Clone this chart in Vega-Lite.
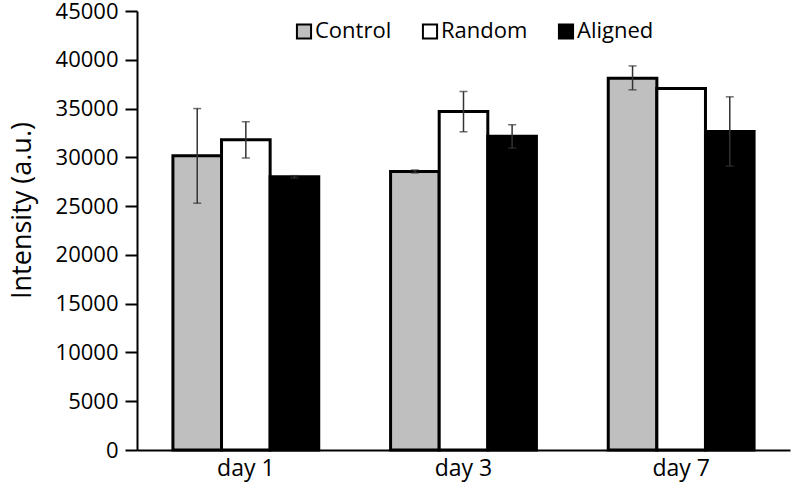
{
  "$schema": "https://vega.github.io/schema/vega-lite/v6.json",
  "width": 653,
  "height": 439,
  "autosize": {"type": "none"},
  "padding": {"left": 137, "top": 11, "right": 4, "bottom": 47},
  "background": "white",
  "config": {
    "view": {"stroke": null},
    "font": "Open Sans"
  },
  "data": {
    "values": [
      {"day": "day 1", "group": "Control", "value": 30150, "lo": 25300, "hi": 35000},
      {"day": "day 1", "group": "Random", "value": 31800, "lo": 29930, "hi": 33650},
      {"day": "day 1", "group": "Aligned", "value": 28000, "lo": 27880, "hi": 28120},
      {"day": "day 3", "group": "Control", "value": 28550, "lo": 28400, "hi": 28700},
      {"day": "day 3", "group": "Random", "value": 34700, "lo": 32620, "hi": 36750},
      {"day": "day 3", "group": "Aligned", "value": 32150, "lo": 30950, "hi": 33340},
      {"day": "day 7", "group": "Control", "value": 38100, "lo": 36920, "hi": 39370},
      {"day": "day 7", "group": "Random", "value": 37050, "lo": null, "hi": null},
      {"day": "day 7", "group": "Aligned", "value": 32650, "lo": 29100, "hi": 36200}
    ]
  },
  "encoding": {
    "x": {
      "field": "day",
      "type": "nominal",
      "scale": {"paddingInner": 0.33, "paddingOuter": 0.165},
      "axis": {
        "title": null,
        "labelAngle": 0,
        "labelFontSize": 23,
        "labelColor": "black",
        "labelPadding": 7,
        "ticks": false,
        "domainColor": "black",
        "domainWidth": 2
      }
    },
    "xOffset": {"field": "group", "type": "nominal", "sort": ["Control", "Random", "Aligned"]}
  },
  "layer": [
    {
      "mark": {"type": "bar", "stroke": "black", "strokeWidth": 3},
      "encoding": {
        "y": {
          "field": "value",
          "type": "quantitative",
          "scale": {"domain": [0, 45000], "nice": false},
          "axis": {
            "title": "Intensity (a.u.)",
            "titleFontSize": 27,
            "titleFontWeight": "normal",
            "titleColor": "black",
            "titlePadding": 19,
            "titleY": 199,
            "values": [0, 5000, 10000, 15000, 20000, 25000, 30000, 35000, 40000, 45000],
            "format": "d",
            "labelFontSize": 22,
            "labelColor": "black",
            "labelPadding": 7,
            "tickSize": 12,
            "tickColor": "black",
            "tickWidth": 2,
            "domainColor": "black",
            "domainWidth": 2,
            "grid": false
          }
        },
        "fill": {
          "field": "group",
          "type": "nominal",
          "sort": ["Control", "Random", "Aligned"],
          "scale": {"domain": ["Control", "Random", "Aligned"], "range": ["#bfbfbf", "#ffffff", "#000000"]},
          "legend": {
            "title": null,
            "orient": "none",
            "direction": "horizontal",
            "legendX": 156,
            "legendY": 9,
            "symbolType": "square",
            "symbolSize": 200,
            "symbolStrokeColor": "black",
            "symbolStrokeWidth": 2,
            "symbolOpacity": 1,
            "labelFontSize": 22,
            "labelColor": "black",
            "labelOffset": 0,
            "columnPadding": 26
          }
        }
      }
    },
    {
      "transform": [{"filter": "datum.hi != null"}],
      "mark": {"type": "rule", "color": "#333333", "strokeWidth": 1.5},
      "encoding": {
        "y": {"field": "lo", "type": "quantitative"},
        "y2": {"field": "hi"}
      }
    },
    {
      "transform": [{"filter": "datum.hi != null"}],
      "mark": {"type": "tick", "color": "#333333", "thickness": 1.5, "size": 8},
      "encoding": {
        "y": {"field": "hi", "type": "quantitative"}
      }
    },
    {
      "transform": [{"filter": "datum.lo != null"}],
      "mark": {"type": "tick", "color": "#333333", "thickness": 1.5, "size": 8},
      "encoding": {
        "y": {"field": "lo", "type": "quantitative"}
      }
    }
  ]
}
